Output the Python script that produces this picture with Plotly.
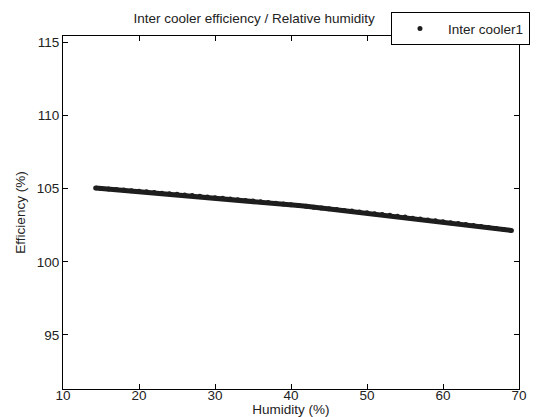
import plotly.graph_objects as go

humidity = [14.3, 15, 16, 17, 18, 19, 20, 21, 22, 23, 24, 25, 26, 27, 28, 29, 30,
            31, 32, 33, 34, 35, 36, 37, 38, 39, 40, 41, 42, 43, 44, 45, 46, 47, 48,
            49, 50, 51, 52, 53, 54, 55, 56, 57, 58, 59, 60, 61, 62, 63, 64, 65, 66,
            67, 68, 69]
efficiency = [105.05, 105.02, 104.99, 104.95, 104.91, 104.87, 104.83, 104.79, 104.75,
              104.70, 104.66, 104.62, 104.57, 104.53, 104.49, 104.44, 104.39, 104.35,
              104.30, 104.25, 104.20, 104.16, 104.11, 104.06, 104.00, 103.95, 103.90,
              103.85, 103.80, 103.74, 103.69, 103.63, 103.58, 103.52, 103.47, 103.41,
              103.35, 103.29, 103.24, 103.18, 103.12, 103.06, 102.99, 102.93, 102.87,
              102.81, 102.74, 102.68, 102.62, 102.55, 102.49, 102.42, 102.35, 102.28,
              102.22, 102.15]

x_ticks = [10, 20, 30, 40, 50, 60, 70]
y_ticks = [95, 100, 105, 110, 115]

FONT = "Liberation Sans, Arial"
FS = 13.5

fig = go.Figure()
fig.add_trace(go.Scatter(x=humidity, y=efficiency, mode="lines",
                         line=dict(color="#1e1e1e", width=5), showlegend=False,
                         hoverinfo="skip"))
fig.add_trace(go.Scatter(x=humidity, y=efficiency, mode="markers",
                         marker=dict(color="#1e1e1e", size=5),
                         name="Inter cooler1"))

axis_common = dict(showline=True, linecolor="black", linewidth=1, mirror="ticks",
                   ticks="inside", ticklen=5, tickcolor="black", showgrid=False,
                   zeroline=False, automargin=False,
                   tickfont=dict(family=FONT, size=FS, color="#222"))

plot_top, plot_bottom = 33, 389
plot_h = plot_bottom - plot_top

fig.update_layout(
    width=542, height=417,
    margin=dict(l=63, r=16, t=plot_top, b=417 - plot_bottom),
    paper_bgcolor="white", plot_bgcolor="white",
    font=dict(family=FONT, size=FS, color="#222"),
    title=dict(text="Inter cooler efficiency / Relative humidity", x=0.469, xanchor="center",
               xref="container", y=1 - 18 / 417, yanchor="middle",
               font=dict(size=FS, color="#222")),
    xaxis=dict(range=[10, 70], tickvals=x_ticks, ticklabelstandoff=-6,
               title=dict(text="Humidity (%)", standoff=8, font=dict(size=FS)), **axis_common),
    yaxis=dict(range=[91.3, 115.45], tickvals=y_ticks,
               title=dict(text="Efficiency (%)", standoff=8, font=dict(size=FS)), **axis_common),
    legend=dict(x=(396 - 63) / 463, xanchor="left", y=1 + (plot_top - 9) / plot_h,
                yanchor="top", bgcolor="white",
                bordercolor="black", borderwidth=1, font=dict(size=FS),
                itemwidth=46, tracegroupgap=0),
)

fig.write_html("out.html")
